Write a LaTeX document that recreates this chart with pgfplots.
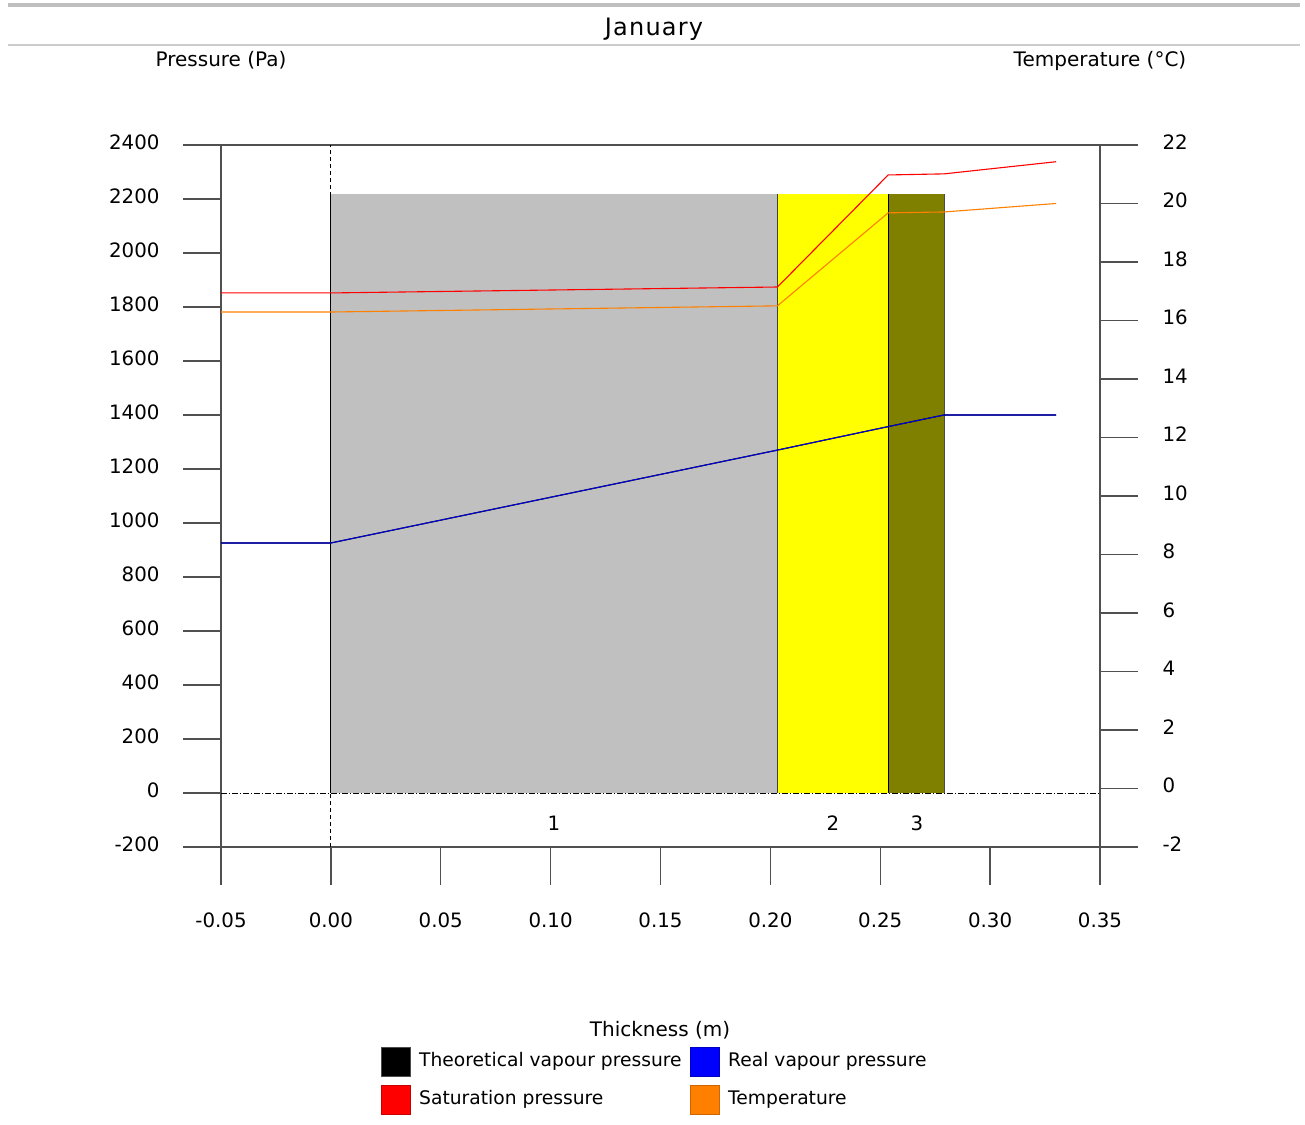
\documentclass[border=0pt]{standalone}
\usepackage{fontspec}
\setmainfont{DejaVu Sans}
\newfontfamily\titlefont[LetterSpace=5]{DejaVu Sans}
\usepackage{pgfplots}
\pgfplotsset{compat=1.18}

\definecolor{layerGray}{HTML}{C0C0C0}
\definecolor{layerYellow}{HTML}{FFFF00}
\definecolor{layerOlive}{HTML}{808000}
\definecolor{satRed}{HTML}{FF0000}
\definecolor{tempOrange}{HTML}{FF8000}
\definecolor{vapBlue}{HTML}{0000D0}
\definecolor{frameGray}{HTML}{505050}

\newcommand\lbl{\fontsize{19.8bp}{23bp}\selectfont}
\newcommand\leg{\fontsize{18.7bp}{22bp}\selectfont}

\pgfplotsset{
  wallframe/.style={
    at={(221bp,277bp)}, anchor=south west,
    scale only axis, width=879bp, height=702bp,
    xmin=-0.05, xmax=0.35,
    tick align=outside, major tick length=38bp,
    axis line style={frameGray, line width=1.3bp},
    every tick/.style={frameGray, line width=1.3bp},
    tick label style={font=\lbl},
    /pgf/number format/assume math mode=true,
    /pgf/number format/1000 sep={},
    scaled ticks=false,
    clip=false,
  },
}

\begin{document}
\begin{tikzpicture}[x=1bp,y=1bp]
\path[use as bounding box] (0,0) rectangle (1305,1124);

% header rules and title
\fill[black!25] (8,1116.5) rectangle (1300,1120.5);
\draw[black!20, line width=1.2bp] (8,1079) -- (1300,1079);
\node[anchor=base, inner sep=0pt, font=\titlefont\fontsize{24bp}{28bp}\selectfont] at (654,1088) {January};

% axis titles
\node[anchor=base, inner sep=0pt, font=\fontsize{20bp}{24bp}\selectfont] at (221,1057.5) {Pressure (Pa)};
\node[anchor=base, inner sep=0pt, font=\fontsize{20bp}{24bp}\selectfont] at (1100,1057.5) {Temperature (°C)};
\node[anchor=base, inner sep=0pt, font=\fontsize{20bp}{24bp}\selectfont] at (660,88) {Thickness (m)};

% pressure axis (left)
\begin{axis}[wallframe,
  ymin=-200, ymax=2400,
  xtick={-0.05,0,0.05,0.1,0.15,0.2,0.25,0.3,0.35},
  ytick={-200,0,200,400,600,800,1000,1200,1400,1600,1800,2000,2200,2400},
  xtick pos=bottom, ytick pos=left,
  xticklabel style={yshift=-24bp, /pgf/number format/.cd, fixed, fixed zerofill, precision=2},
  yticklabel style={xshift=-20bp, yshift=3bp},
]
% wall layers
\addplot[fill=layerGray, draw=none] coordinates {(0,2220) (0.2032,2220)} \closedcycle;
\addplot[fill=layerYellow, draw=none] coordinates {(0.2032,2220) (0.2536,2220)} \closedcycle;
\addplot[fill=layerOlive, draw=none] coordinates {(0.2536,2220) (0.279,2220)} \closedcycle;

% inner face reference line and zero line
\addplot[black, line width=0.8bp, dash pattern=on 4bp off 3bp] coordinates {(0,-200) (0,2400)};
\addplot[black, line width=0.8bp, dash pattern=on 6bp off 2bp on 1bp off 2bp] coordinates {(-0.05,0) (0.35,0)};

% layer interfaces
\addplot[black, line width=1bp] coordinates {(0,0) (0,2220)};
\addplot[black!75, line width=1bp] coordinates {(0.2032,0) (0.2032,2220)};
\addplot[black, line width=1bp] coordinates {(0.2536,0) (0.2536,2220)};
\addplot[black!70, line width=1bp] coordinates {(0.279,0) (0.279,2220)};

% vapour pressures
\addplot[black, line width=1.1bp] coordinates {(-0.05,926) (0,926) (0.2032,1270) (0.2536,1357) (0.279,1400) (0.33,1400)};
\addplot[vapBlue, line width=1.1bp] coordinates {(-0.05,926) (0,926) (0.2032,1270) (0.2536,1357) (0.279,1400) (0.33,1400)};
% saturation pressure
\addplot[satRed, line width=1.1bp] coordinates {(-0.05,1852) (0,1852) (0.2032,1874) (0.2536,2289) (0.279,2293) (0.33,2338)};

% layer numbers
\node[font=\lbl] at (axis cs:0.1015,-111) {1};
\node[font=\lbl] at (axis cs:0.2285,-111) {2};
\node[font=\lbl] at (axis cs:0.2667,-111) {3};
\end{axis}

% temperature axis (right)
\begin{axis}[wallframe,
  ymin=-2, ymax=22,
  hide x axis, axis y line*=right,
  ytick={-2,0,2,4,6,8,10,12,14,16,18,20,22},
  ytick pos=right,
  yticklabel style={anchor=west, xshift=21bp, yshift=3bp},
]
\addplot[tempOrange, line width=1.1bp] coordinates {(-0.05,16.29) (0,16.29) (0.2032,16.5) (0.2536,19.68) (0.279,19.71) (0.33,20.0)};
\end{axis}

% legend
\filldraw[fill=black, draw=black!70, line width=1bp] (381.5,47.5) rectangle (410.5,76.5);
\filldraw[fill=blue, draw=blue!75!black, line width=1bp] (690.5,47.5) rectangle (719.5,76.5);
\filldraw[fill=red, draw=red!80!black, line width=1bp] (381.5,9.5) rectangle (410.5,38.5);
\filldraw[fill=tempOrange, draw=tempOrange!80!black, line width=1bp] (690.5,9.5) rectangle (719.5,38.5);
\node[anchor=base west, inner sep=0pt, font=\leg] at (419,57.5) {Theoretical vapour pressure};
\node[anchor=base west, inner sep=0pt, font=\leg] at (728,57.5) {Real vapour pressure};
\node[anchor=base west, inner sep=0pt, font=\leg] at (419,20) {Saturation pressure};
\node[anchor=base west, inner sep=0pt, font=\leg] at (728,20) {Temperature};
\end{tikzpicture}
\end{document}
